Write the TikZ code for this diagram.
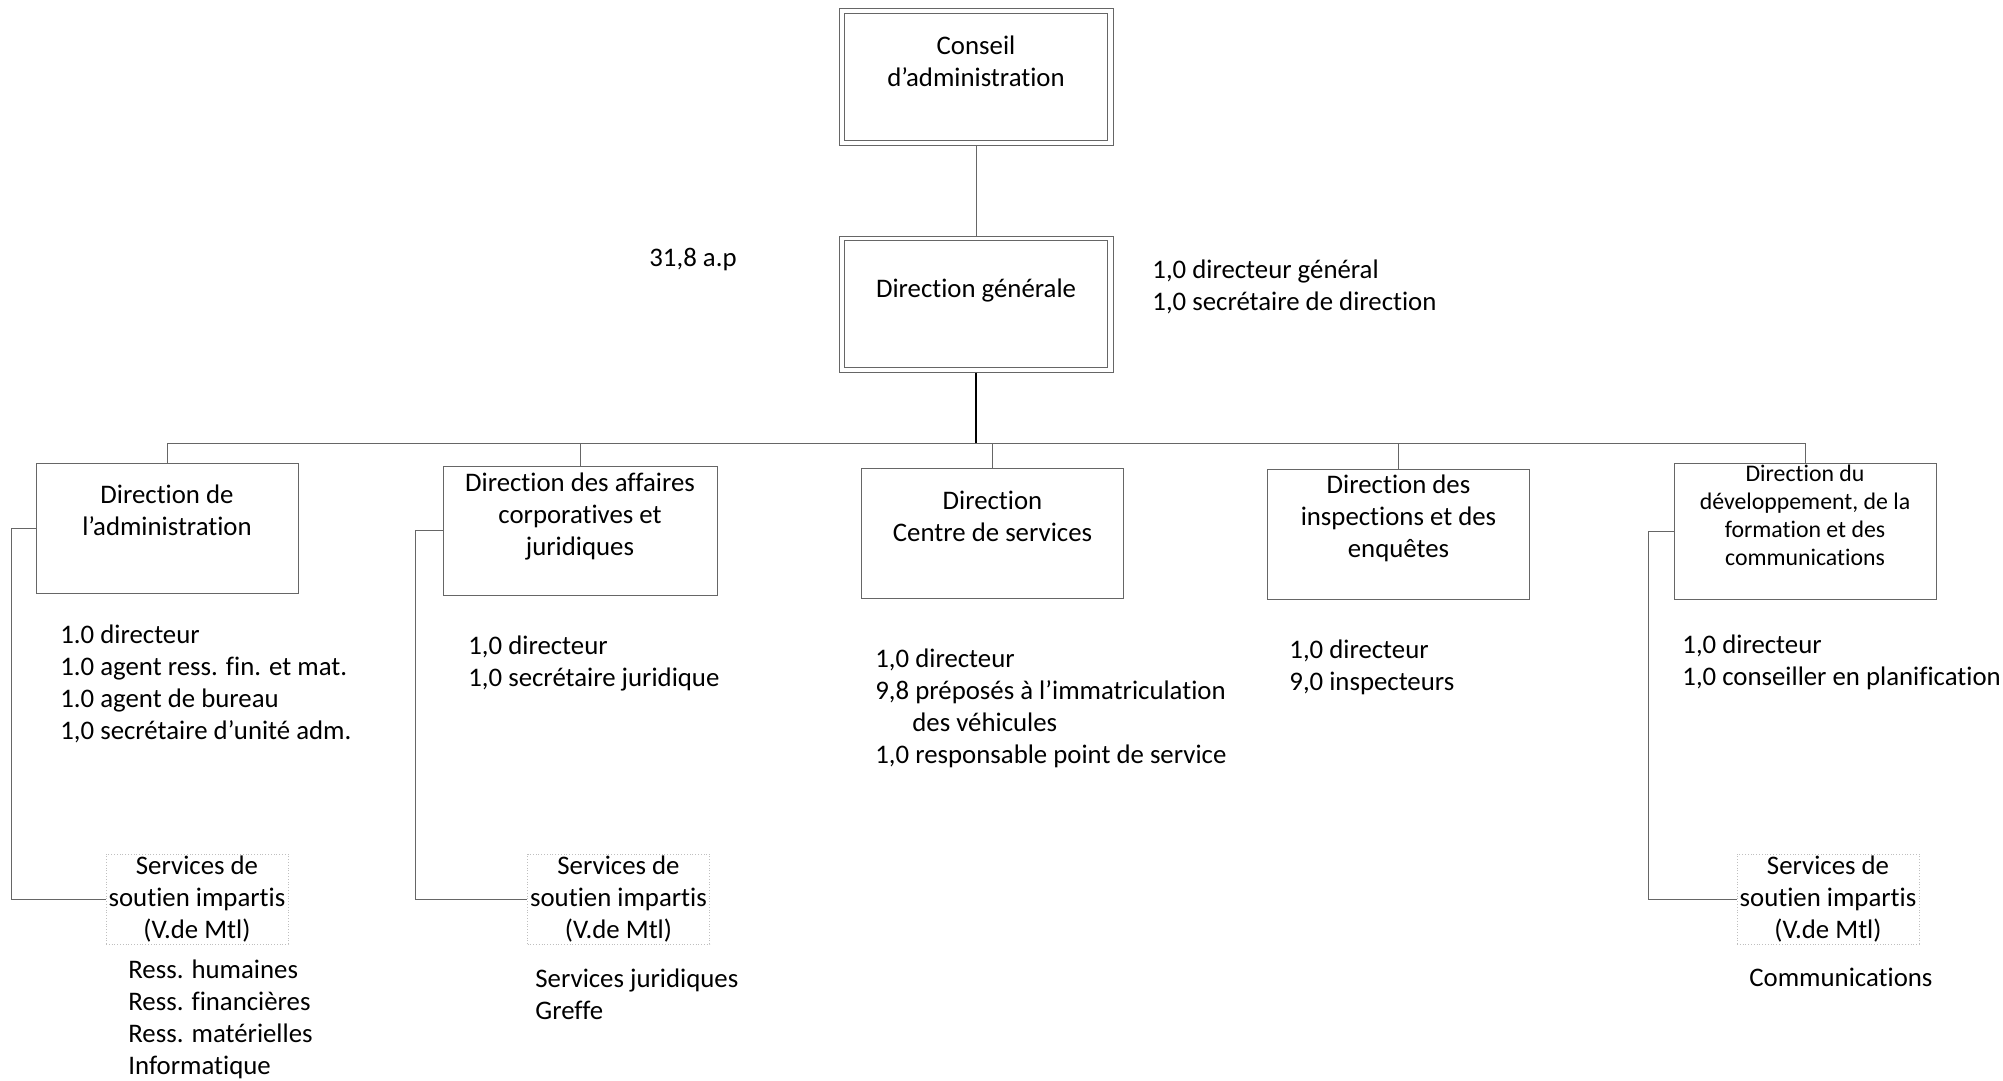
\documentclass[tikz,border=0pt]{standalone}
\usepackage{fontspec}
\setmainfont{Carlito}[Ligatures=NoCommon]

\tikzset{
  boxline/.style={draw=black!60, line width=0.5pt},
  dirbox/.style={boxline, minimum width=131pt, minimum height=65pt, inner sep=0pt},
  topbox/.style={boxline, minimum width=137pt, minimum height=68pt, inner sep=0pt},
  svcbox/.style={draw=black!25, densely dotted, line width=0.4pt, align=center, inner sep=0pt, minimum width=91pt, minimum height=45pt},
  boxtext/.style={align=center, anchor=north, inner sep=0pt},
  stafftext/.style={align=left, anchor=north west, inner sep=0pt},
  link/.style={draw=black!60, line width=0.5pt},
  trunk/.style={draw=black, line width=1pt}
}

\begin{document}
\begin{tikzpicture}[x=0.5pt, y=-0.5pt, font=\fontsize{13.4}{16}\selectfont]
  \useasboundingbox (0,0) rectangle (2003,1081);

  \node[topbox, minimum height=68.5pt] (ca) at (976,77.5) {};
  \draw[boxline] ([xshift=3pt,yshift=-2.75pt]ca.north west) rectangle ([xshift=-3pt,yshift=2.75pt]ca.south east);
  \node[boxtext] (ca-t) at (976,35) {Conseil\\d’administration};
  \node[topbox] (dg) at (976,304) {};
  \draw[boxline] ([xshift=3pt,yshift=-2.5pt]dg.north west) rectangle ([xshift=-3pt,yshift=2.5pt]dg.south east);
  \node[boxtext] (dg-t) at (976,278) {Direction générale};
  \node[stafftext] (ap) at (649,248) {31,8 a.p};
  \node[stafftext] (dg-s) at (1152,259) {1,0 directeur général\\1,0 secrétaire de direction};

  \node[dirbox] (dadm) at (167,528.5) {};
  \node[boxtext] (dadm-t) at (167,484) {Direction de\\l’administration};
  \node[dirbox, minimum width=137pt, minimum height=64.5pt] (daff) at (580,530.5) {};
  \node[boxtext] (daff-t) at (580,472) {Direction des affaires\\corporatives et\\juridiques};
  \node[dirbox] (dcs) at (992.5,533) {};
  \node[boxtext] (dcs-t) at (992.5,491) {Direction\\Centre de services};
  \node[dirbox] (dins) at (1398.5,534) {};
  \node[boxtext] (dins-t) at (1398.5,474) {Direction des\\inspections et des\\enquêtes};
  \node[dirbox, minimum height=68pt] (ddev) at (1805,531) {};
  \node[boxtext, font=\fontsize{11.9}{13.9}\selectfont] (ddev-t) at (1805,465) {Direction du\\développement, de la\\formation et des\\communications};

  \node[stafftext] (dadm-s) at (60,624) {1.0 directeur\\1.0 agent ress. fin. et mat.\\1.0 agent de bureau\\1,0 secrétaire d’unité adm.};
  \node[stafftext] (daff-s) at (468,635) {1,0 directeur\\1,0 secrétaire juridique};
  \node[stafftext] (dcs-s) at (875,648) {1,0 directeur\\9,8 préposés à l’immatriculation\\\hspace*{18.5pt}des véhicules\\1,0 responsable point de service};
  \node[stafftext] (dins-s) at (1289,639) {1,0 directeur\\9,0 inspecteurs};
  \node[stafftext] (ddev-s) at (1682,634) {1,0 directeur\\1,0 conseiller en planification};

  \node[svcbox] (sadm) at (197,899) {Services de\\soutien impartis\\(V.de Mtl)};
  \node[svcbox] (saff) at (618.5,899) {Services de\\soutien impartis\\(V.de Mtl)};
  \node[svcbox] (sdev) at (1828,899) {Services de\\soutien impartis\\(V.de Mtl)};
  \node[stafftext] (sadm-l) at (128,959) {Ress. humaines\\Ress. financières\\Ress. matérielles\\Informatique};
  \node[stafftext] (saff-l) at (535,968) {Services juridiques\\Greffe};
  \node[stafftext] (sdev-l) at (1749,968) {Communications};

  \coordinate (bus) at (976,443);
  \draw[link] (ca.south) -- (dg.north);
  \draw[trunk] (dg.south) -- (bus);
  \foreach \d in {dadm,daff,dcs,dins,ddev}
    \draw[link] (bus) -| (\d.north);
  \draw[link] (dadm.west) -- ++(-24,0) |- (sadm.west);
  \draw[link] (daff.west) -- ++(-27,0) |- (saff.west);
  \draw[link] (ddev.west) -- ++(-25,0) |- (sdev.west);
\end{tikzpicture}
\end{document}
